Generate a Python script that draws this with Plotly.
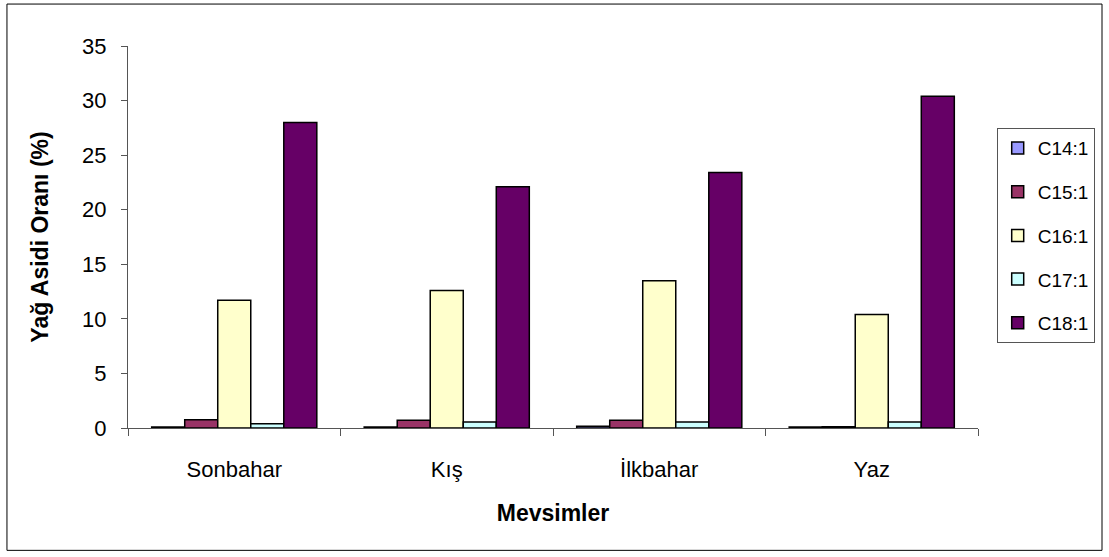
import plotly.graph_objects as go

seasons = ["Sonbahar", "Kış", "İlkbahar", "Yaz"]
series_names = ["C14:1", "C15:1", "C16:1", "C17:1", "C18:1"]
c14_1 = [0.1, 0.1, 0.15, 0.1]
c15_1 = [0.75, 0.7, 0.7, 0.12]
c16_1 = [11.7, 12.6, 13.5, 10.4]
c17_1 = [0.4, 0.55, 0.55, 0.55]
c18_1 = [28.0, 22.1, 23.4, 30.4]
y_ticks = [0, 5, 10, 15, 20, 25, 30, 35]

colors = ["#9999FF", "#993366", "#FFFFCC", "#CCFFFF", "#660066"]
values = [c14_1, c15_1, c16_1, c17_1, c18_1]

FONT = "Liberation Sans, Arial, sans-serif"

fig = go.Figure()
for name, vals, col in zip(series_names, values, colors):
    fig.add_trace(go.Bar(
        x=seasons, y=vals, name=name, legendgroup=name,
        marker=dict(color=col, line=dict(color="#000000", width=1.5)),
    ))

fig.update_layout(
    width=1109, height=557,
    margin=dict(l=128, r=131, t=46, b=128.5, autoexpand=False),
    paper_bgcolor="white", plot_bgcolor="white",
    barmode="group", bargap=0.223, bargroupgap=0,
    font=dict(family=FONT, size=22, color="black"),
    showlegend=True,
    legend=dict(
        x=1.022, y=0.785, xanchor="left", yanchor="top",
        bordercolor="#555555", borderwidth=1, bgcolor="white",
        font=dict(size=19), tracegroupgap=16,
    ),
    xaxis=dict(
        type="category", tickson="boundaries", ticks="outside", ticklen=7,
        tickcolor="#555555", showline=True, linecolor="#555555", linewidth=1,
        showgrid=False, ticklabelstandoff=22,
        title=dict(text="<b>Mevsimler</b>", font=dict(size=23), standoff=23),
    ),
    yaxis=dict(
        range=[0, 35], tickvals=y_ticks, ticks="outside", ticklen=6,
        tickcolor="#555555", showline=True, linecolor="#555555", linewidth=1,
        showgrid=False, zeroline=False, ticklabelstandoff=10,
        title=dict(text="<b>Yağ Asidi Oranı (%)</b>", font=dict(size=23), standoff=27),
    ),
    shapes=[dict(
        type="rect", xref="paper", yref="paper",
        x0=-0.1424, x1=1.1459, y0=-0.3203, y1=1.1098,
        line=dict(color="#000000", width=1), fillcolor="rgba(0,0,0,0)", layer="below",
    )],
)

fig.write_html("out.html")
